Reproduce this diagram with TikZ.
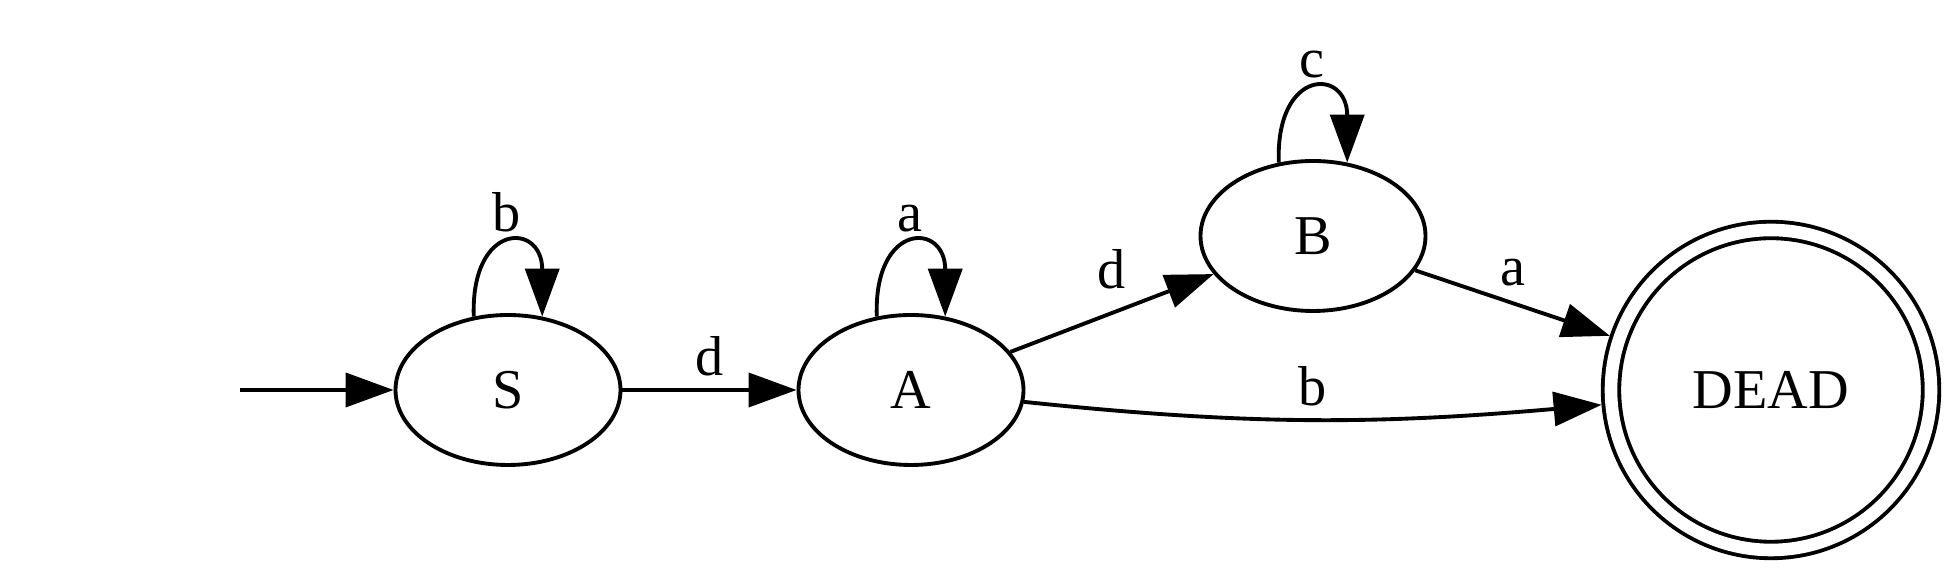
\documentclass[tikz,border=0pt]{standalone}
\usepackage{fontspec}
\setmainfont{Liberation Serif}
\usetikzlibrary{shapes.geometric,arrows.meta}
\begin{document}
\begin{tikzpicture}
[font=\fontsize{16}{19}\selectfont, line width=1.1pt,
       >={Triangle[length=4.8mm,width=3.4mm]},
       state/.style={ellipse, draw, minimum width=2.25cm, minimum height=1.5cm, inner sep=0pt},
       final/.style={circle, draw, double, double distance=1.26mm, minimum size=3.2cm, outer sep=1mm}]
  \useasboundingbox (0,0) rectangle (19.56,5.75);
  \coordinate (start) at (2.40,1.85);
  \node[state] (S) at (5.08,1.85) {S};
  \node[state] (A) at (9.11,1.85) {A};
  \node[state] (B) at (13.13,3.39) {B};
  \node[final] (DEAD) at (17.71,1.85) {DEAD}; % accepting
  % transitions
  \draw[->] (start) -- (S);
  \draw[->] (S) -- node[above] {d} (A);
  \draw[->] (A) -- node[above=3pt] {d} (B);
  \draw[->] (B) -- node[above=1pt] {a} (DEAD);
  \draw[->] (A) to[out=-6,in=185] node[above] {b} (DEAD);
  % self loops
  \draw[->] (S.115) .. controls +(92:0.95) and +(90:0.95) .. (S.65) node[midway,above] {b};
  \draw[->] (A.115) .. controls +(92:0.95) and +(90:0.95) .. (A.65) node[midway,above] {a};
  \draw[->] (B.115) .. controls +(92:0.95) and +(90:0.95) .. (B.65) node[midway,above] {c};
\end{tikzpicture}
\end{document}
